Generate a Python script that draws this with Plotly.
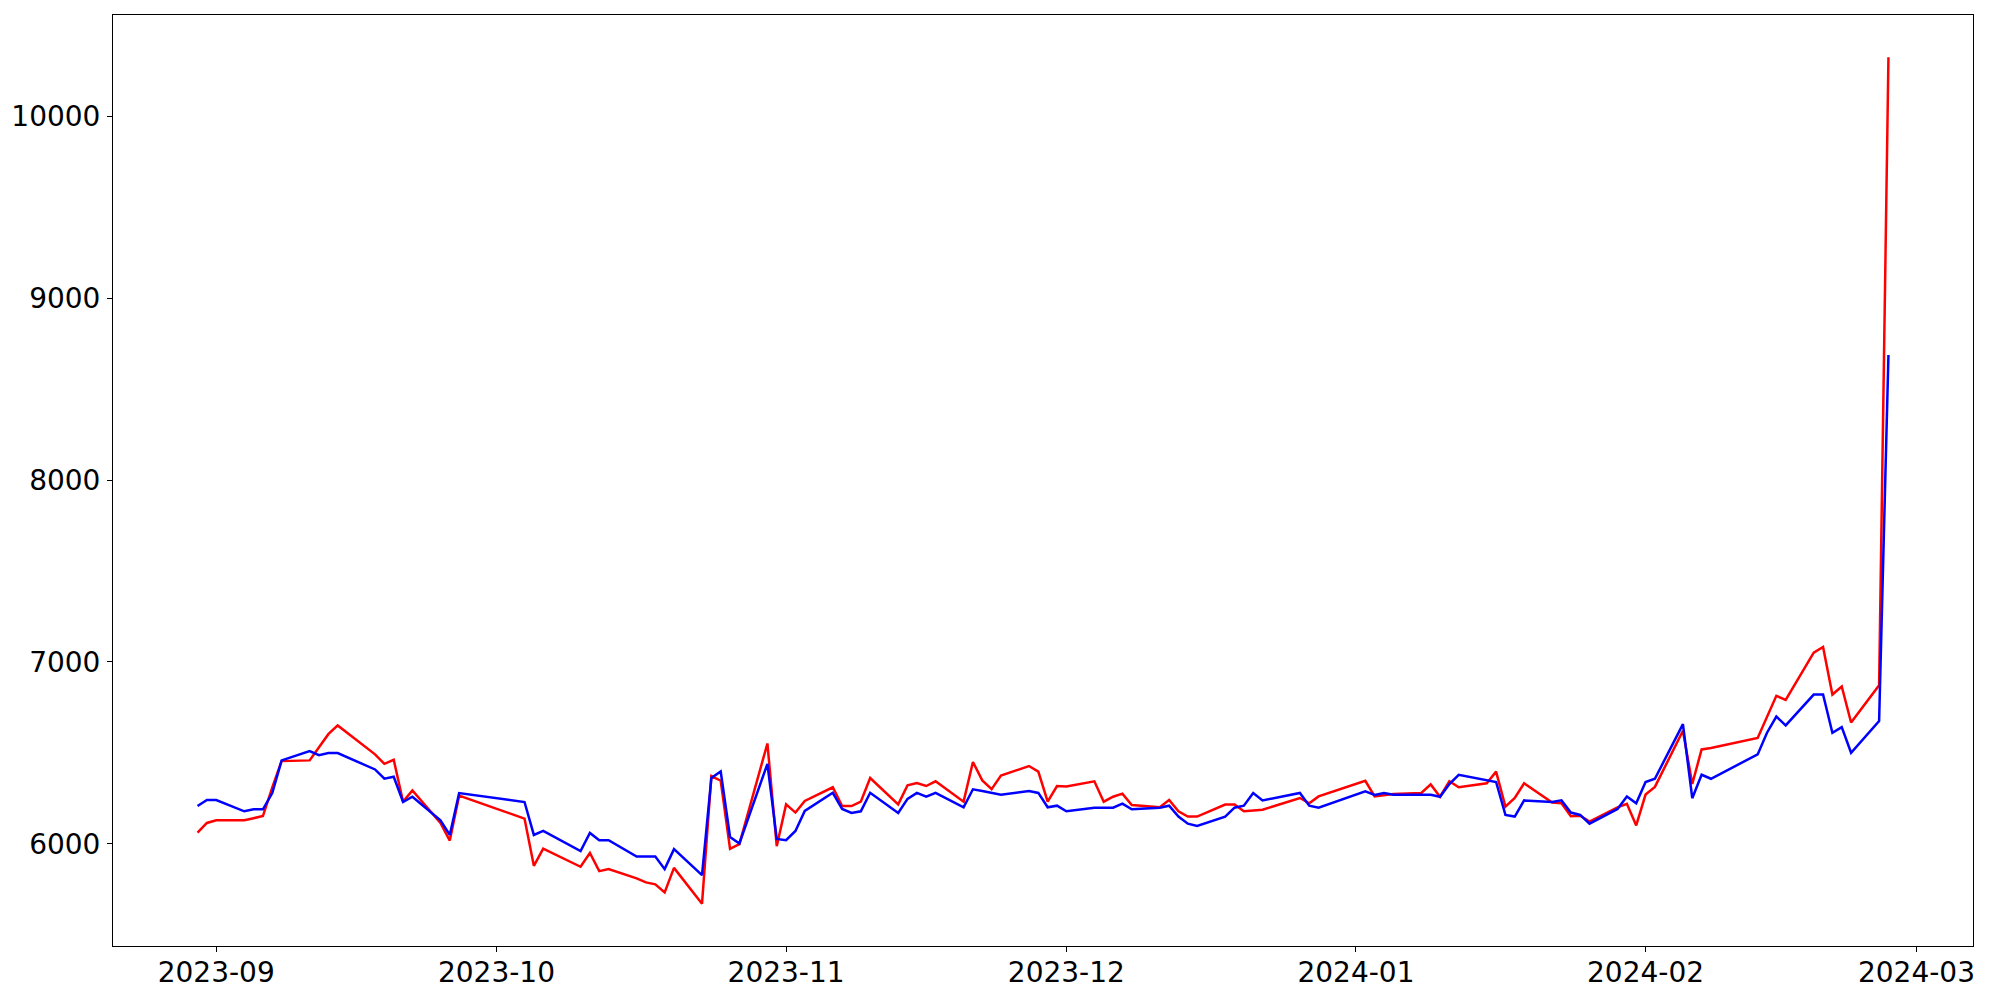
import pandas as pd
import plotly.graph_objects as go

# trading days (weekends and holidays skipped)
dates = [
    "2023-08-30", "2023-08-31", "2023-09-01", "2023-09-04", "2023-09-05", "2023-09-06",
    "2023-09-07", "2023-09-08", "2023-09-11", "2023-09-12", "2023-09-13", "2023-09-14",
    "2023-09-18", "2023-09-19", "2023-09-20", "2023-09-21", "2023-09-22", "2023-09-25",
    "2023-09-26", "2023-09-27", "2023-10-04", "2023-10-05", "2023-10-06", "2023-10-10",
    "2023-10-11", "2023-10-12", "2023-10-13", "2023-10-16", "2023-10-17", "2023-10-18",
    "2023-10-19", "2023-10-20", "2023-10-23", "2023-10-24", "2023-10-25", "2023-10-26",
    "2023-10-27", "2023-10-30", "2023-10-31", "2023-11-01", "2023-11-02", "2023-11-03",
    "2023-11-06", "2023-11-07", "2023-11-08", "2023-11-09", "2023-11-10", "2023-11-13",
    "2023-11-14", "2023-11-15", "2023-11-16", "2023-11-17", "2023-11-20", "2023-11-21",
    "2023-11-22", "2023-11-23", "2023-11-24", "2023-11-27", "2023-11-28", "2023-11-29",
    "2023-11-30", "2023-12-01", "2023-12-04", "2023-12-05", "2023-12-06", "2023-12-07",
    "2023-12-08", "2023-12-11", "2023-12-12", "2023-12-13", "2023-12-14", "2023-12-15",
    "2023-12-18", "2023-12-19", "2023-12-20", "2023-12-21", "2023-12-22", "2023-12-26",
    "2023-12-27", "2023-12-28", "2024-01-02", "2024-01-03", "2024-01-04", "2024-01-05",
    "2024-01-08", "2024-01-09", "2024-01-10", "2024-01-11", "2024-01-12", "2024-01-15",
    "2024-01-16", "2024-01-17", "2024-01-18", "2024-01-19", "2024-01-22", "2024-01-23",
    "2024-01-24", "2024-01-25", "2024-01-26", "2024-01-29", "2024-01-30", "2024-01-31",
    "2024-02-01", "2024-02-02", "2024-02-05", "2024-02-06", "2024-02-07", "2024-02-08",
    "2024-02-13", "2024-02-14", "2024-02-15", "2024-02-16", "2024-02-19", "2024-02-20",
    "2024-02-21", "2024-02-22", "2024-02-23", "2024-02-26", "2024-02-27",
]

red_vals = [
    6062, 6115, 6130, 6130, 6141, 6153,
    6311, 6455, 6459, 6530, 6603, 6651,
    6492, 6440, 6462, 6232, 6294, 6115,
    6018, 6265, 6139, 5879, 5974, 5874,
    5950, 5850, 5861, 5810, 5788, 5777,
    5733, 5868, 5671, 6373, 6347, 5972,
    5998, 6552, 5987, 6217, 6172, 6236,
    6311, 6208, 6208, 6232, 6362, 6217,
    6322, 6334, 6318, 6344, 6232, 6450,
    6349, 6301, 6375, 6428, 6397, 6232,
    6318, 6316, 6344, 6232, 6259, 6276,
    6214, 6201, 6241, 6179, 6150, 6150,
    6216, 6216, 6179, 6183, 6188, 6252,
    6223, 6261, 6347, 6261, 6269, 6274,
    6280, 6327, 6259, 6344, 6311, 6333,
    6397, 6205, 6252, 6333, 6227, 6223,
    6152, 6155, 6122, 6201, 6220, 6101,
    6271, 6313, 6622, 6329, 6519, 6527,
    6582, 6695, 6814, 6792, 7051, 7083,
    6821, 6865, 6667, 6872, 10325,
]

blue_vals = [
    6208, 6241, 6241, 6179, 6190, 6190,
    6279, 6459, 6510, 6488, 6499, 6499,
    6409, 6358, 6369, 6230, 6259, 6130,
    6049, 6279, 6230, 6049, 6071, 5960,
    6060, 6020, 6020, 5930, 5930, 5930,
    5861, 5971, 5828, 6362, 6398, 6038,
    6002, 6440, 6027, 6020, 6071, 6181,
    6281, 6192, 6170, 6179, 6281, 6170,
    6247, 6280, 6259, 6280, 6201, 6300,
    6291, 6281, 6270, 6291, 6280, 6201,
    6210, 6179, 6199, 6199, 6199, 6221,
    6190, 6199, 6210, 6150, 6111, 6099,
    6150, 6199, 6210, 6280, 6239, 6280,
    6210, 6199, 6289, 6269, 6280, 6270,
    6270, 6270, 6259, 6329, 6380, 6347,
    6340, 6159, 6150, 6239, 6230, 6239,
    6172, 6159, 6111, 6192, 6260, 6223,
    6340, 6358, 6658, 6251, 6380, 6358,
    6492, 6611, 6700, 6651, 6821, 6821,
    6611, 6642, 6501, 6675, 8688,
]

x = pd.to_datetime(dates)

# matplotlib-style 5% margins around the data
span = x.max() - x.min()
x_lo = (x.min() - 0.05 * span).strftime("%Y-%m-%d %H:%M:%S")
x_hi = (x.max() + 0.05 * span).strftime("%Y-%m-%d %H:%M:%S")
vmin = min(red_vals + blue_vals)
vmax = max(red_vals + blue_vals)
pad = 0.05 * (vmax - vmin)

fig = go.Figure()
fig.add_trace(go.Scatter(x=x, y=red_vals, mode="lines", name="red",
                         line=dict(color="red", width=2.5)))
fig.add_trace(go.Scatter(x=x, y=blue_vals, mode="lines", name="blue",
                         line=dict(color="blue", width=2.5)))

axis_style = dict(
    ticks="outside", ticklen=5, tickwidth=1, tickcolor="black",
    showline=True, linecolor="black", linewidth=1, mirror=True,
    showgrid=False, zeroline=False, automargin=False,
)
fig.update_xaxes(range=[x_lo, x_hi], tickformat="%Y-%m", dtick="M1",
                 tick0="2023-09-01", ticklabelstandoff=-4, **axis_style)
fig.update_yaxes(range=[vmin - pad, vmax + pad], dtick=1000, tick0=0,
                 tickformat="d", ticklabelstandoff=1, **axis_style)

fig.update_layout(
    width=2000, height=1000,
    margin=dict(l=113, r=27, t=15, b=54),
    plot_bgcolor="white", paper_bgcolor="white",
    showlegend=False,
    font=dict(family="DejaVu Sans", size=28, color="black"),
)

fig.write_html("out.html", config={"displayModeBar": False},
               post_script="document.body.style.margin='0';")
